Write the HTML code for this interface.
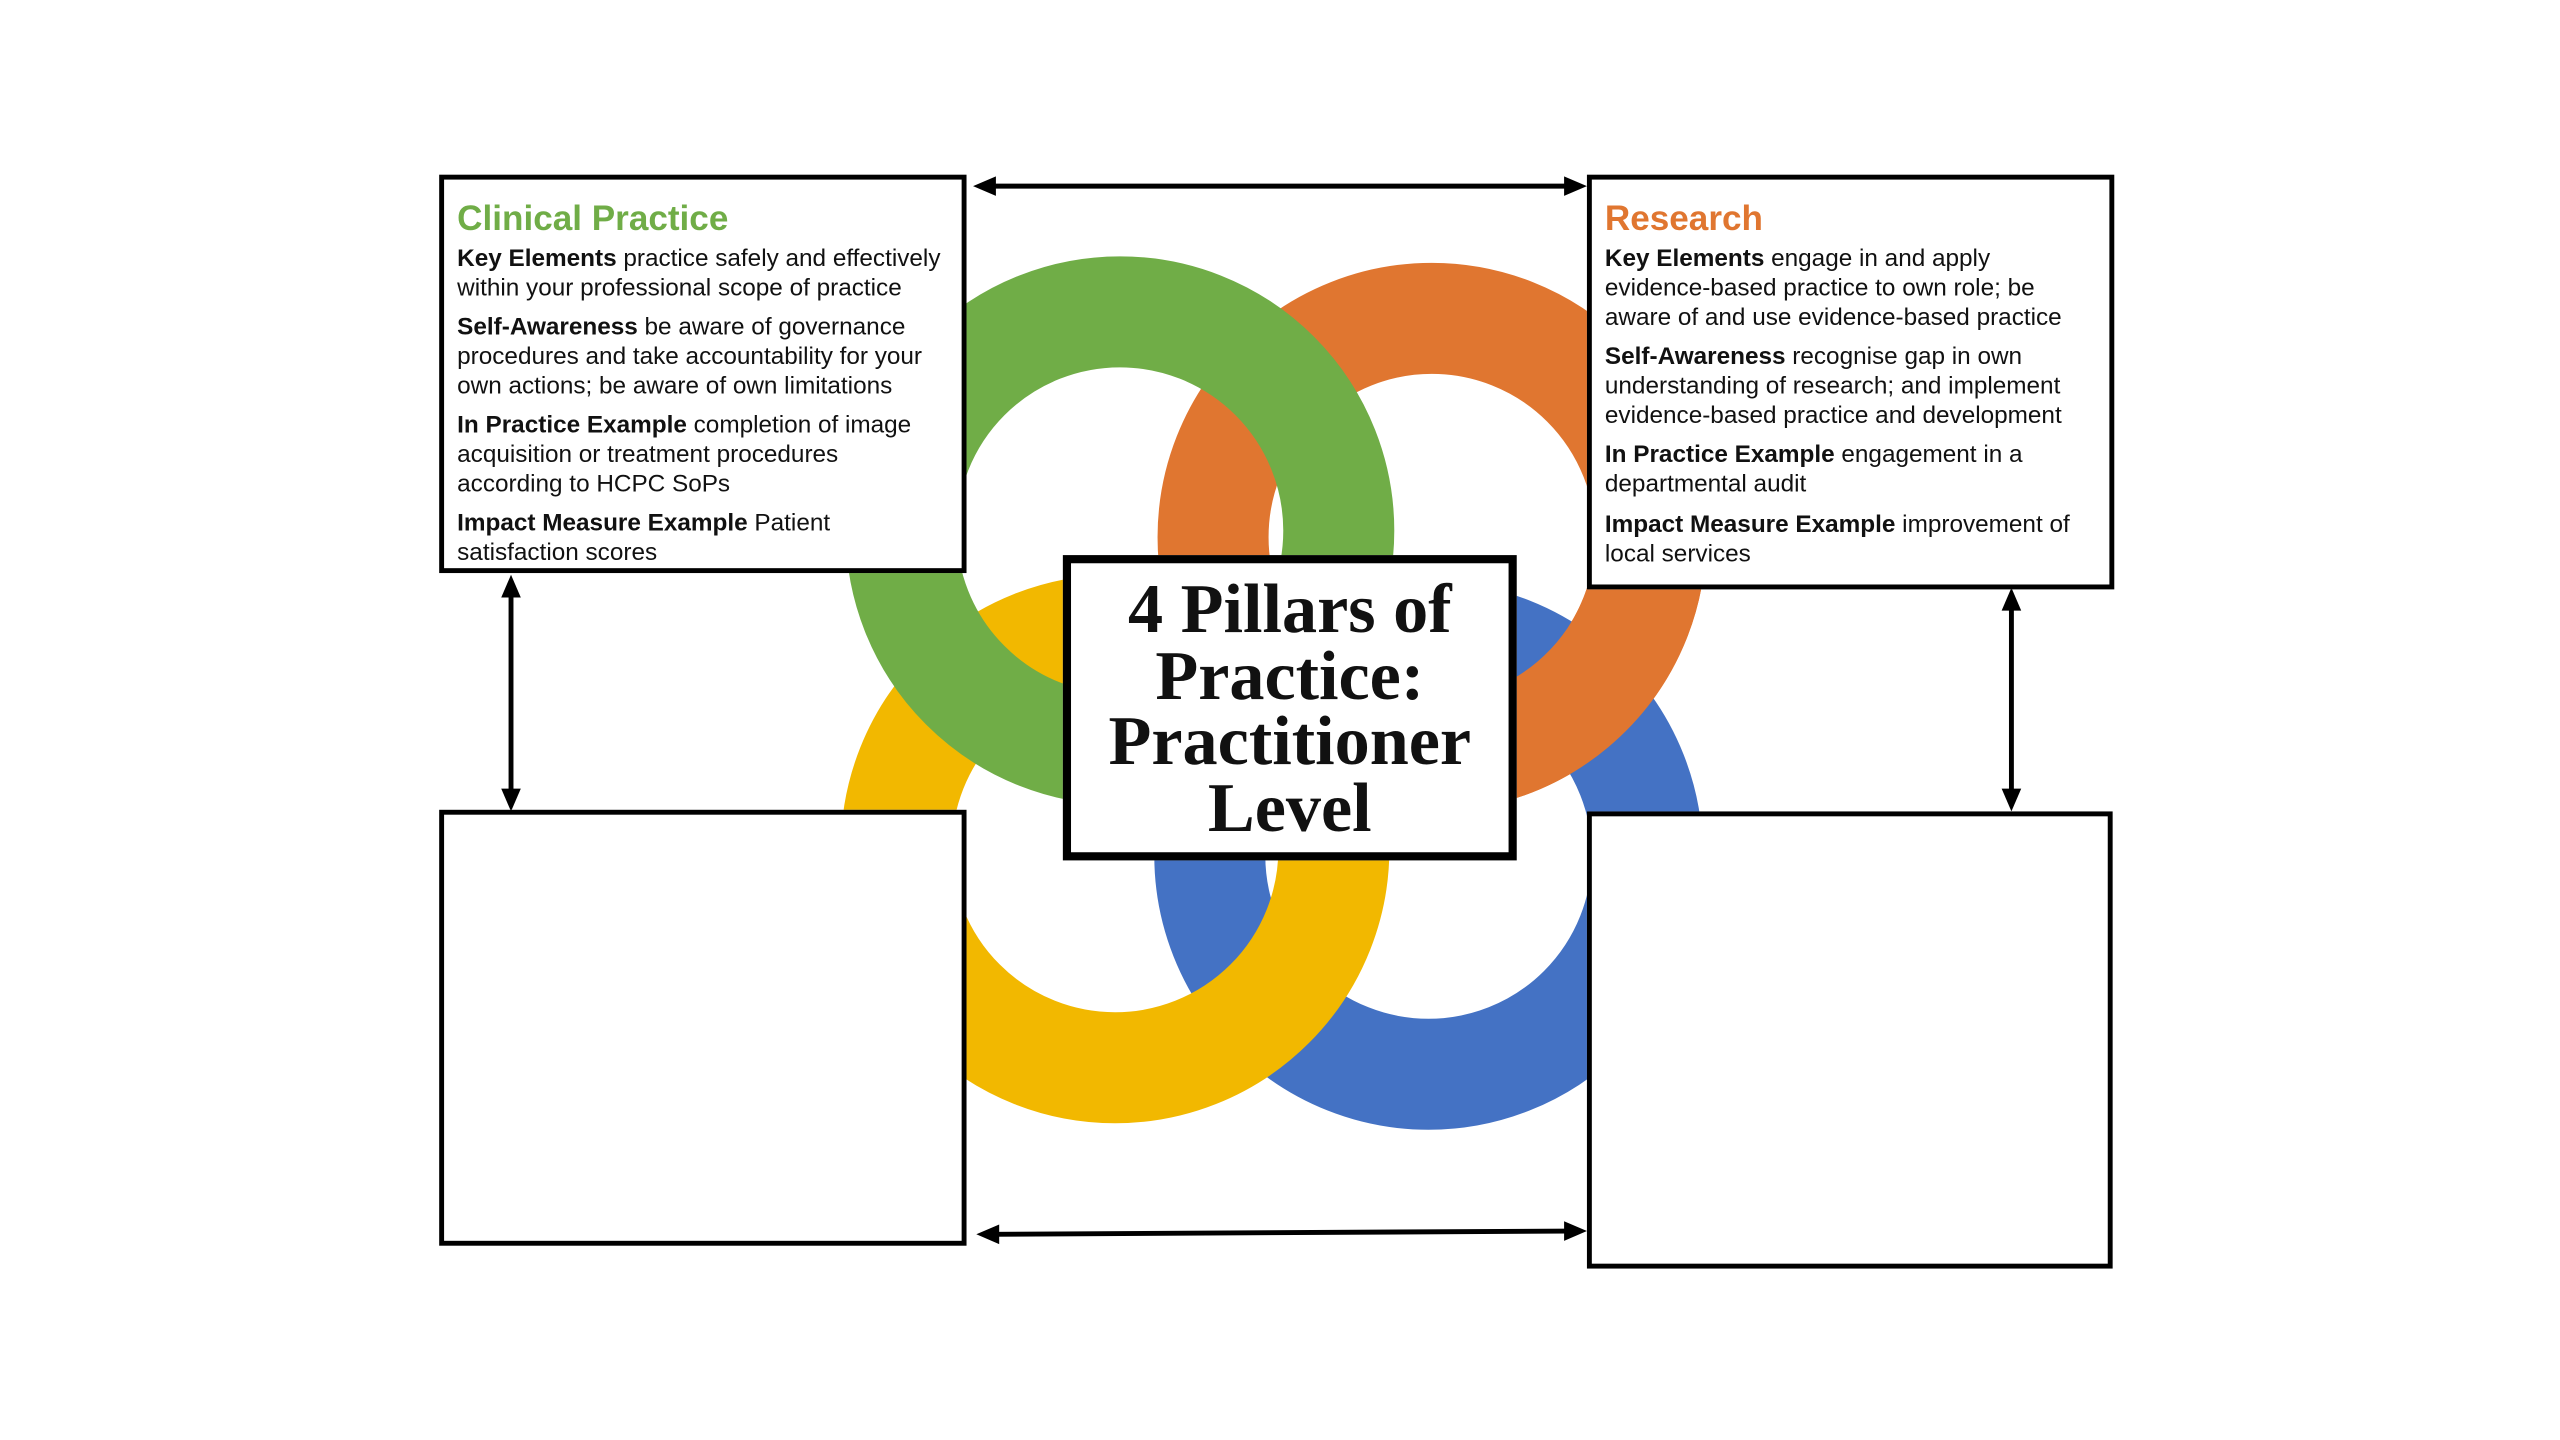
<!DOCTYPE html>
<html><head><meta charset="utf-8"><style>
html,body{margin:0;padding:0;background:#fff;}
#wrap{position:absolute;left:0;top:0;width:1568px;height:882px;transform:scale(1.63265);transform-origin:0 0;overflow:hidden;}
svg{position:absolute;left:0;top:0;}
.box{position:absolute;background:#fff;border:3px solid #000;box-sizing:border-box;}
.txt{position:absolute;font-family:"Liberation Sans",sans-serif;font-size:14.9px;line-height:18px;color:#111;white-space:nowrap;}
.txt b{font-weight:bold;}
.txt p{margin:0 0 6px 0;}
.h{font-size:21.5px;font-weight:bold;line-height:28px;margin-bottom:2px;}
.center{position:absolute;left:651px;top:340px;width:278px;height:187px;border:5px solid #000;background:#fff;box-sizing:border-box;font-family:"Liberation Serif",serif;font-weight:bold;font-size:43px;line-height:40.5px;text-align:center;padding-top:9px;color:#111;white-space:nowrap;}
</style></head><body><div id="wrap">
<svg width="1568" height="882" viewBox="0 0 1568 882">
  <g fill="none" stroke-width="68">
    <circle cx="877" cy="329" r="134" stroke="#E07630"/>
    <circle cx="875" cy="524" r="134" stroke="#4472C4"/>
    <circle cx="683" cy="520" r="134" stroke="#F2B800"/>
    <circle cx="686" cy="325" r="134" stroke="#70AD47"/>
    <path d="M 1011 329 A 134 134 0 0 1 854 461" stroke="#E07630"/>
  </g>
  <g stroke="#000" stroke-width="3" fill="#000">
    <line x1="606" y1="114" x2="962" y2="114"/>
    <polygon points="596,114 610,108 610,120" stroke="none"/>
    <polygon points="972,114 958,108 958,120" stroke="none"/>
    <line x1="608" y1="756" x2="962" y2="754"/>
    <polygon points="598,756 612,750 612,762" stroke="none"/>
    <polygon points="972,754 958,748 958,760" stroke="none"/>
    <line x1="313" y1="362" x2="313" y2="487"/>
    <polygon points="313,352 307,366 319,366" stroke="none"/>
    <polygon points="313,497 307,483 319,483" stroke="none"/>
    <line x1="1232" y1="370" x2="1232" y2="487"/>
    <polygon points="1232,360 1226,374 1238,374" stroke="none"/>
    <polygon points="1232,497 1226,483 1238,483" stroke="none"/>
  </g>
</svg>
<div class="box" style="left:269px;top:107px;width:323px;height:244px;"></div>
<div class="box" style="left:972px;top:107px;width:323px;height:254px;"></div>
<div class="box" style="left:269px;top:496px;width:323px;height:267px;"></div>
<div class="box" style="left:972px;top:497px;width:322px;height:280px;"></div>
<div class="txt" style="left:280px;top:120px;">
<div class="h" style="color:#70AD47;">Clinical Practice</div>
<p><b>Key Elements</b> practice safely and effectively<br>within your professional scope of practice</p>
<p><b>Self-Awareness</b> be aware of governance<br>procedures and take accountability for your<br>own actions; be aware of own limitations</p>
<p><b>In Practice Example</b> completion of image<br>acquisition or treatment procedures<br>according to HCPC SoPs</p>
<p><b>Impact Measure Example</b> Patient<br>satisfaction scores</p>
</div>
<div class="txt" style="left:983px;top:120px;">
<div class="h" style="color:#E07630;">Research</div>
<p><b>Key Elements</b> engage in and apply<br>evidence-based practice to own role; be<br>aware of and use evidence-based practice</p>
<p><b>Self-Awareness</b> recognise gap in own<br>understanding of research; and implement<br>evidence-based practice and development</p>
<p style="margin-bottom:7px"><b>In Practice Example</b> engagement in a<br>departmental audit</p>
<p><b>Impact Measure Example</b> improvement of<br>local services</p>
</div>
<div class="center">4 Pillars of<br>Practice:<br>Practitioner<br>Level</div>
</div></body></html>
